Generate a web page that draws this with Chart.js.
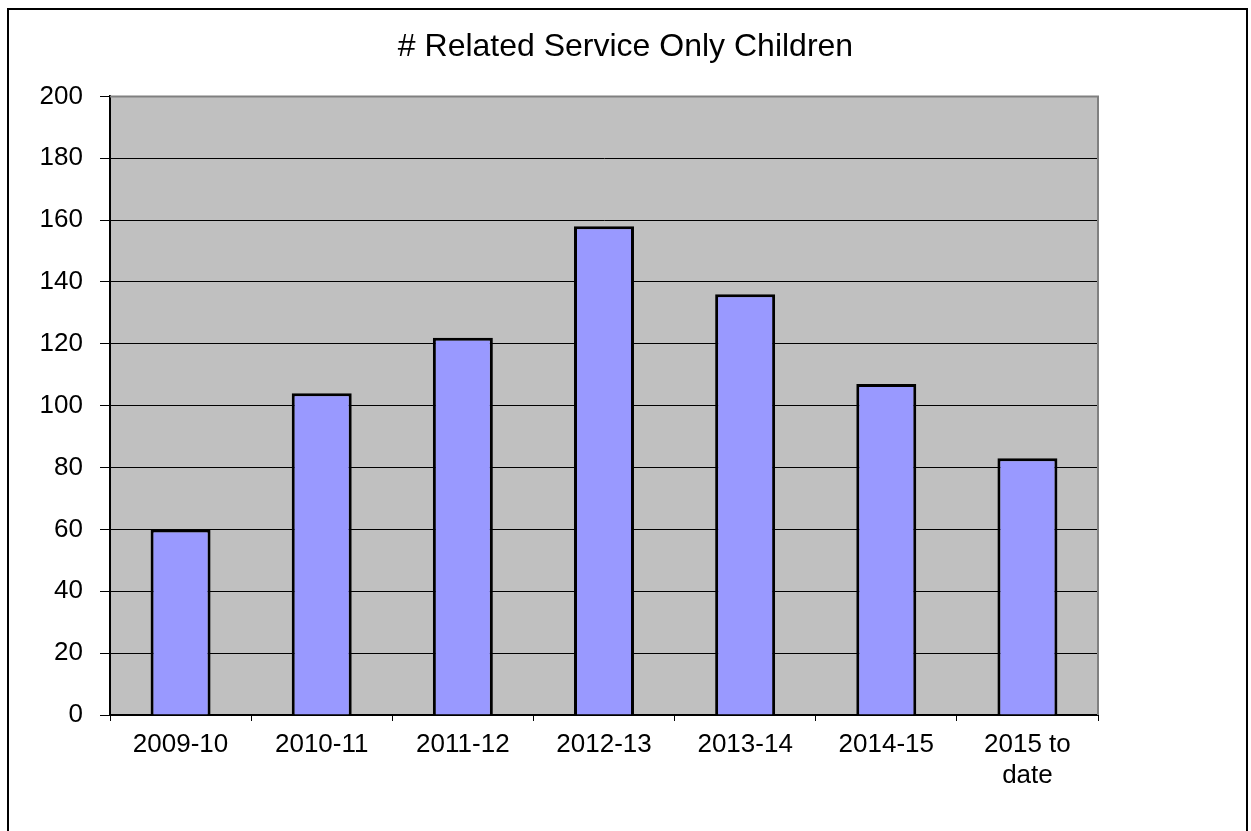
<!DOCTYPE html>
<html>
<head>
<meta charset="utf-8">
<script src="https://cdn.jsdelivr.net/npm/chart.js@4/dist/chart.umd.min.js"></script>
<style>
  html, body { margin: 0; padding: 0; background: #fff; }
  #wrap { width: 1251px; height: 831px; position: relative; }
</style>
</head>
<body>
<div id="wrap"><canvas id="barChart"></canvas></div>
<script>
const ctx = document.getElementById("barChart").getContext("2d");

const years = ["2009-10", "2010-11", "2011-12", "2012-13", "2013-14", "2014-15", ["2015 to", "date"]];
const children = [60, 104, 122, 158, 136, 107, 83];
const yTicks = [0, 20, 40, 60, 80, 100, 120, 140, 160, 180, 200];

const FONT = "Arial, 'Liberation Sans', sans-serif";

// grey plot background, grey top/right edge, black outer frame
const frame = {
    id: "frame",
    beforeDraw(chart) {
        const a = chart.chartArea;
        const c = chart.ctx;
        c.save();
        c.fillStyle = "#fff";
        c.fillRect(0, 0, chart.width, chart.height);
        c.fillStyle = "#c0c0c0";
        c.fillRect(a.left, a.top, a.right - a.left, a.bottom - a.top);
        c.restore();
    },
    afterDraw(chart) {
        const a = chart.chartArea;
        const c = chart.ctx;
        c.save();
        c.strokeStyle = "#808080";
        c.lineWidth = 2;
        c.beginPath();
        c.moveTo(a.left, a.top);
        c.lineTo(a.right, a.top);
        c.lineTo(a.right, a.bottom);
        c.stroke();
        c.strokeStyle = "#000";
        c.strokeRect(8, 9, 1239, 900);
        c.restore();
    }
};

new Chart(ctx, {
    type: "bar",
    data: {
        labels: years,
        datasets: [{
            label: "# Related Service Only Children",
            data: children,
            backgroundColor: "#9999ff",
            borderColor: "#000",
            borderWidth: 3,
            categoryPercentage: 1,
            barPercentage: 0.425
        }]
    },
    options: {
        responsive: true,
        maintainAspectRatio: false,
        animation: false,
        layout: { padding: 0 },
        plugins: {
            legend: { display: false },
            tooltip: { enabled: false },
            title: {
                display: true,
                text: "# Related Service Only Children",
                color: "#000",
                font: { family: FONT, size: 32, weight: "normal" },
                padding: { top: 28, bottom: 30 }
            }
        },
        scales: {
            x: {
                offset: true,
                grid: { offset: true, drawOnChartArea: false, color: "#000", tickLength: 6 },
                border: { color: "#000", width: 2 },
                ticks: { color: "#000", padding: 8, font: { family: FONT, size: 26 }, maxRotation: 0 },
                afterFit: (s) => { s.height = 116; }
            },
            y: {
                min: 0,
                max: 200,
                afterBuildTicks: (s) => { s.ticks = yTicks.map(v => ({ value: v })); },
                grid: { color: "#000", tickLength: 10 },
                border: { color: "#000", width: 2 },
                ticks: { color: "#000", padding: 17, font: { family: FONT, size: 26 } },
                afterFit: (s) => { s.width = 110; }
            },
            // empty right-hand margin
            pad: {
                position: "right",
                grid: { display: false },
                border: { display: false },
                ticks: { display: false },
                afterFit: (s) => { s.width = 153; }
            }
        }
    },
    plugins: [frame]
});
</script>
</body>
</html>
